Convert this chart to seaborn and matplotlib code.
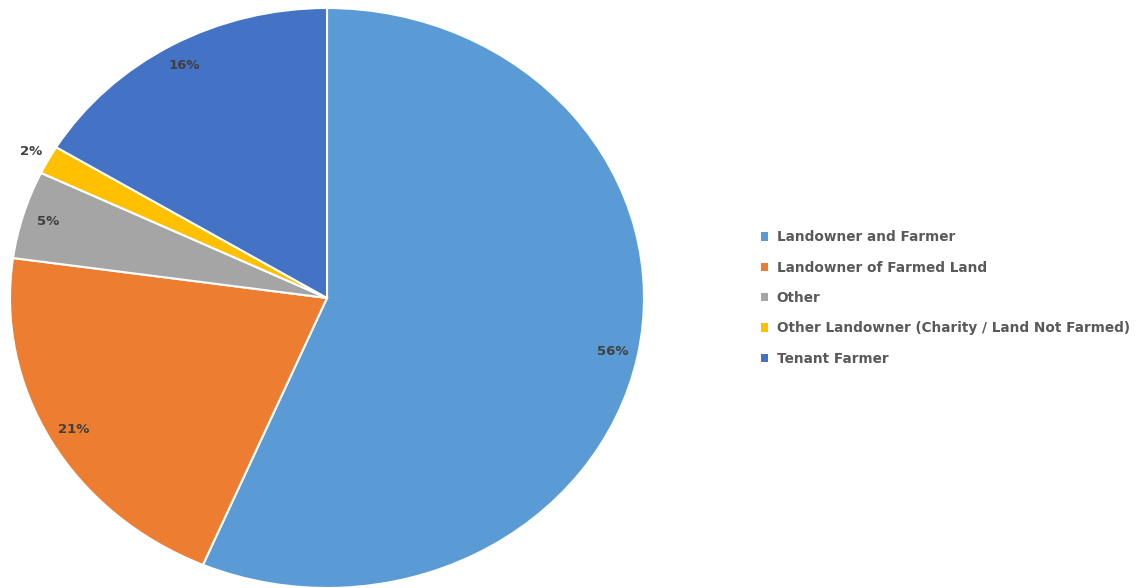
import numpy as np
import matplotlib
matplotlib.use("Agg")
import matplotlib.pyplot as plt
import seaborn as sns

sns.set_style("white")
plt.rcParams["font.family"] = ["DejaVu Sans"]

# data
categories = [
    "Landowner and Farmer",
    "Landowner of Farmed Land",
    "Other",
    "Other Landowner (Charity / Land Not Farmed)",
    "Tenant Farmer",
]
shares = [56.4, 20.8, 4.9, 1.6, 16.3]
colors = sns.color_palette(["#5B9BD5", "#ED7D31", "#A5A5A5", "#FFC000", "#4472C4"])

fig = plt.figure(figsize=(11.41, 5.88), dpi=100)
ax = fig.add_axes([10 / 1141, 0.0, 634 / 1141, 580 / 588])

wedges, texts, autotexts = ax.pie(
    shares,
    colors=colors,
    startangle=90,
    counterclock=False,
    autopct="%1.0f%%",
    pctdistance=0.92,
    wedgeprops=dict(edgecolor="white", linewidth=1.5),
    textprops=dict(color="#404040", fontsize=9.5, fontweight="bold"),
)

# small slice label sits just outside the pie
w = wedges[3]
mid = np.deg2rad((w.theta1 + w.theta2) / 2)
autotexts[3].set_position((1.06 * np.cos(mid), 1.06 * np.sin(mid)))

ax.set_aspect("auto")
ax.set_xlim(-1, 1)
ax.set_ylim(-1, 1)

leg = fig.legend(
    wedges, categories,
    loc="center left",
    bbox_to_anchor=(761 / 1141, 1 - 298 / 588),
    frameon=False,
    borderpad=0,
    borderaxespad=0,
    handlelength=0.55,
    handleheight=0.55,
    handletextpad=0.6,
    labelspacing=1.2,
    prop=dict(size=9.8, weight="bold"),
)
for t in leg.get_texts():
    t.set_color("#595959")
for h in leg.legend_handles:
    h.set_edgecolor("none")

fig.savefig("out.png", dpi=100)
